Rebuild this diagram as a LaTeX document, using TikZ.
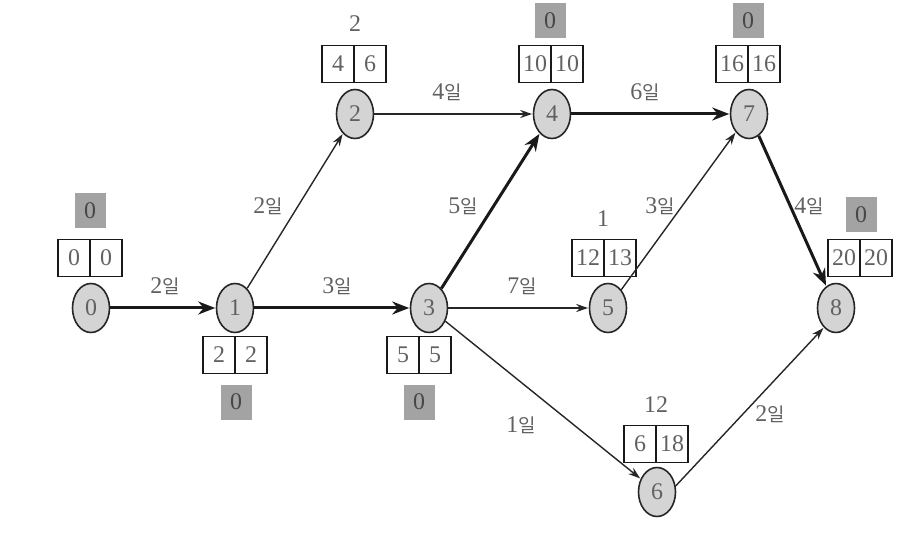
\documentclass[tikz,border=0pt]{standalone}
\usepackage{fontspec}
\setmainfont{Liberation Serif}
\newfontfamily\kr{Noto Sans CJK KR}
\usetikzlibrary{shapes.geometric,arrows.meta}
\newcommand{\il}{{\kr\fontsize{19}{19}\selectfont 일}}
\begin{document}
\begin{tikzpicture}[x=1bp,y=-1bp,
  txt/.style={font=\fontsize{24}{24}\selectfont,text=black!62},
  ev/.style={txt,ellipse,draw=black!85,line width=1.6bp,fill=black!17,minimum width=37bp,minimum height=49bp,inner sep=0pt},
  cell/.style={txt,draw=black!90,line width=1.6bp,minimum width=32bp,minimum height=37bp,inner sep=0pt},
  gbox/.style={txt,fill=black!36,minimum width=31bp,minimum height=35bp,inner sep=0pt,text=black!72},
  lab/.style={txt,inner sep=1bp},
  act/.style={-{Stealth[length=12bp,width=8bp]},line width=1.4bp,draw=black!85,shorten >=0.5bp},
  crit/.style={-{Stealth[length=17bp,width=13bp]},line width=3bp,draw=black!90,shorten >=0.5bp}]
\useasboundingbox (0,0) rectangle (906,544);

% events
\node[ev] (n0) at (91,308) {0};
\node[ev] (n1) at (235,308) {1};
\node[ev] (n2) at (355,114) {2};
\node[ev] (n3) at (429,308) {3};
\node[ev] (n4) at (552,114) {4};
\node[ev] (n5) at (608,308) {5};
\node[ev] (n6) at (657,492) {6};
\node[ev] (n7) at (749,114) {7};
\node[ev] (n8) at (836,308) {8};

% time boxes (ET | LT)
\node[cell,anchor=east] (b0l) at (90.8,258) {0};
\node[cell,anchor=west] (b0r) at (89.2,258) {0};
\node[gbox] (g0) at (90,211) {0};

\node[cell,anchor=east] (b1l) at (235.8,355) {2};
\node[cell,anchor=west] (b1r) at (234.2,355) {2};
\node[gbox] (g1) at (236,402) {0};

\node[cell,anchor=east] (b2l) at (354.8,64) {4};
\node[cell,anchor=west] (b2r) at (353.2,64) {6};
\node[txt] (s2) at (355,24) {2};

\node[cell,anchor=east] (b3l) at (419.8,355) {5};
\node[cell,anchor=west] (b3r) at (418.2,355) {5};
\node[gbox] (g3) at (419,402) {0};

\node[cell,anchor=east] (b4l) at (551.8,64) {10};
\node[cell,anchor=west] (b4r) at (550.2,64) {10};
\node[gbox] (g4) at (550,21) {0};

\node[cell,anchor=east] (b5l) at (604.8,258) {12};
\node[cell,anchor=west] (b5r) at (603.2,258) {13};
\node[txt] (s5) at (603,219) {1};

\node[cell,anchor=east] (b6l) at (656.8,444) {6};
\node[cell,anchor=west] (b6r) at (655.2,444) {18};
\node[txt] (s6) at (656,405) {12};

\node[cell,anchor=east] (b7l) at (748.8,64) {16};
\node[cell,anchor=west] (b7r) at (747.2,64) {16};
\node[gbox] (g7) at (748,21) {0};

\node[cell,anchor=east] (b8l) at (860.8,258) {20};
\node[cell,anchor=west] (b8r) at (859.2,258) {20};
\node[gbox] (g8) at (861,215) {0};

% activities
\draw[crit] (n0) -- (n1);
\draw[crit] (n1) -- (n3);
\draw[crit] (n3) -- (n4);
\draw[crit] (n4) -- (n7);
\draw[crit] (n7) -- (n8);
\draw[act] (n1) -- (n2);
\draw[act] (n2) -- (n4);
\draw[act] (n3) -- (n5);
\draw[act] (n5) -- (n7);
\draw[act] (n3) -- (n6);
\draw[act] (n6.18) -- (n8.238);

% durations
\node[lab] (l01) at (165,286) {2\il};
\node[lab] (l12) at (268,206) {2\il};
\node[lab] (l13) at (337,286) {3\il};
\node[lab] (l24) at (447,92) {4\il};
\node[lab] (l34) at (463,206) {5\il};
\node[lab] (l47) at (645,92) {6\il};
\node[lab] (l35) at (522,286) {7\il};
\node[lab] (l57) at (660,206) {3\il};
\node[lab] (l78) at (809,206) {4\il};
\node[lab] (l36) at (521,425) {1\il};
\node[lab] (l68) at (770,414) {2\il};
\end{tikzpicture}
\end{document}
